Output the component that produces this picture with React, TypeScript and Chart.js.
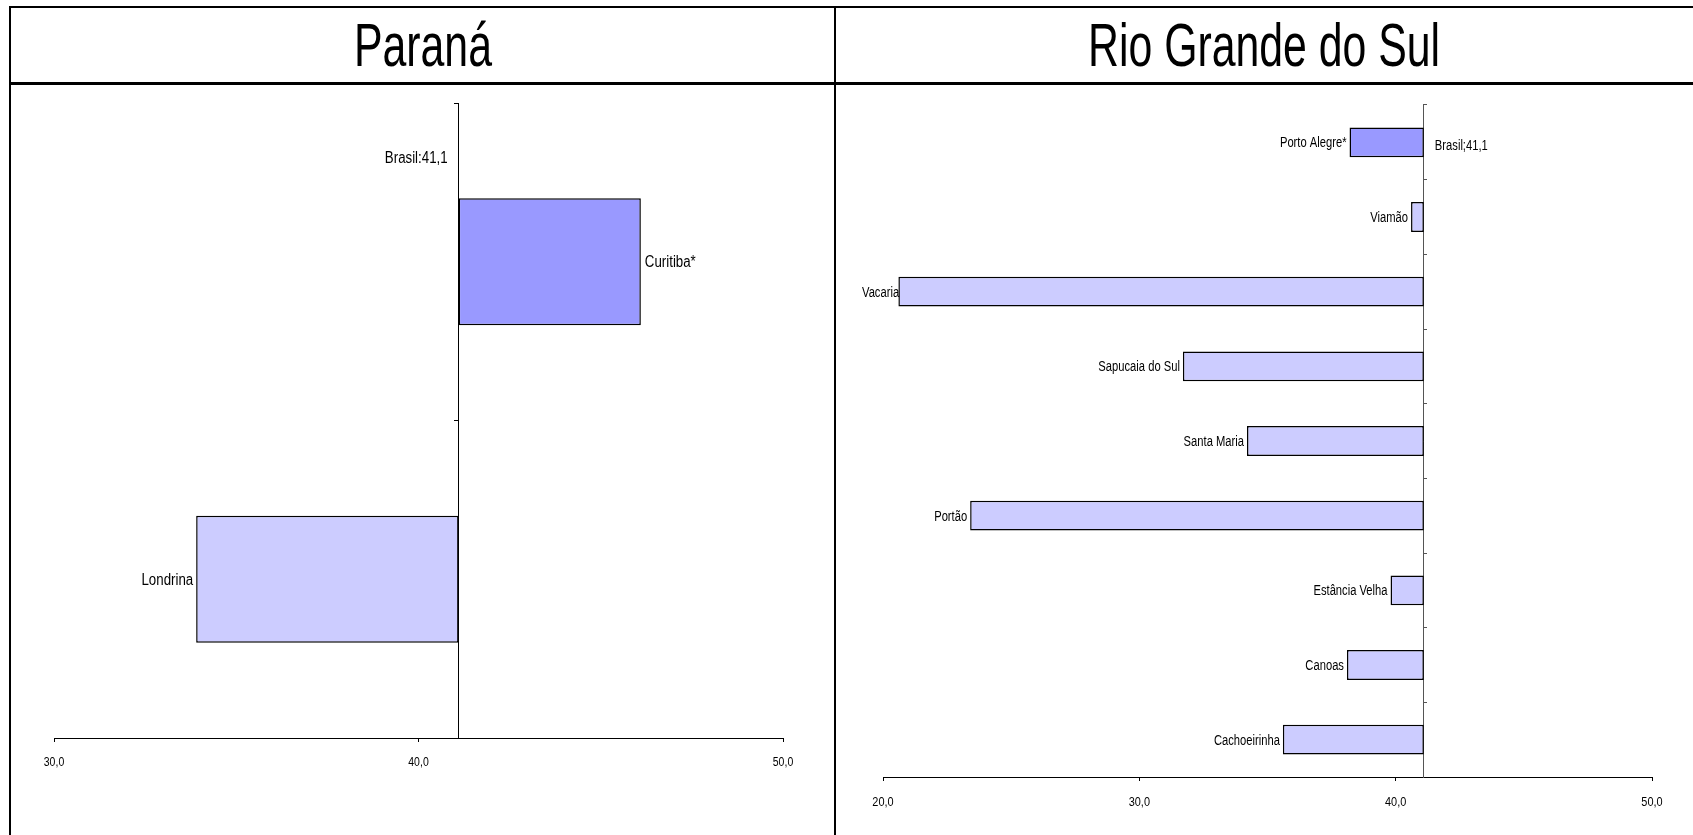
import React, { useEffect, useRef } from "react";
import { Chart, registerables } from "chart.js";

Chart.register(...registerables);

// ---------- data ----------
const BRASIL = 41.1;

const parCities = ["Curitiba*", "Londrina"];
const parValues = [46.1, 33.9];
const parHighlight = [true, false];
const parTicks = { min: 30, max: 50, step: 10 };

const rsCities = [
  "Porto Alegre*",
  "Viamão",
  "Vacaria",
  "Sapucaia do Sul",
  "Santa Maria",
  "Portão",
  "Estância Velha",
  "Canoas",
  "Cachoeirinha",
];
const rsValues = [38.2, 40.6, 20.6, 31.7, 34.2, 23.4, 39.8, 38.1, 35.6];
const rsHighlight = [true, false, false, false, false, false, false, false, false];
const rsTicks = { min: 20, max: 50, step: 10 };

const titles = ["Paraná", "Rio Grande do Sul"];
const brasilLabels = ["Brasil:41,1", "Brasil;41,1"];

// ---------- styling ----------
const FONT = '"Liberation Sans", Arial, Helvetica, sans-serif';
const DARK = "#9999FF";
const LIGHT = "#CCCCFF";

type PanelCfg = {
  cities: string[];
  values: number[];
  highlight: boolean[];
  ticks: { min: number; max: number; step: number };
  brasilLabel: string;
  brasilSide: "left" | "right";
  brasilOffset: number;
  labelSize: number;
  labelScale: number;
  tickSize: number;
  tickScale: number;
  tickOffset: number;
  axisColor: string;
  yTickLength: number;
  canvas: { left: number; top: number; w: number; h: number };
  padding: { left: number; right: number; top: number; bottom: number };
};

function drawText(
  ctx: CanvasRenderingContext2D,
  text: string,
  x: number,
  yCenter: number,
  align: CanvasTextAlign,
  sx: number,
  size: number
) {
  ctx.save();
  ctx.font = `${size}px ${FONT}`;
  ctx.translate(x, yCenter + size * 0.358);
  ctx.scale(sx, 1);
  ctx.textAlign = align;
  ctx.textBaseline = "alphabetic";
  ctx.fillStyle = "#000";
  ctx.fillText(text, 0, 0);
  ctx.restore();
}

function textWidth(ctx: CanvasRenderingContext2D, text: string, size: number, sx: number) {
  ctx.save();
  ctx.font = `${size}px ${FONT}`;
  const w = ctx.measureText(text).width * sx;
  ctx.restore();
  return w;
}

const fmt = (v: number) => v.toFixed(1).replace(".", ",");

function makePlugin(cfg: PanelCfg) {
  return {
    id: "customLabels",
    afterDraw(chart: any) {
      const ctx: CanvasRenderingContext2D = chart.ctx;
      const xs = chart.scales.x;
      const ys = chart.scales.y;
      const area = chart.chartArea;
      const base = xs.getPixelForValue(BRASIL);
      const band =
        cfg.cities.length > 1
          ? ys.getPixelForValue(1) - ys.getPixelForValue(0)
          : area.bottom - area.top;

      cfg.cities.forEach((name, i) => {
        const v = cfg.values[i];
        const yc = ys.getPixelForValue(i);
        const xe = xs.getPixelForValue(v);
        if (v >= BRASIL) {
          drawText(ctx, name, xe + 4, yc, "left", cfg.labelScale, cfg.labelSize);
        } else {
          let x = xe - 3;
          const w = textWidth(ctx, name, cfg.labelSize, cfg.labelScale);
          const minLeft = area.left - 21;
          if (x - w < minLeft) x = minLeft + w;
          drawText(ctx, name, x, yc, "right", cfg.labelScale, cfg.labelSize);
        }
      });

      const by = ys.getPixelForValue(0) + cfg.brasilOffset * band;
      if (cfg.brasilSide === "left") {
        drawText(ctx, cfg.brasilLabel, base - 11, by, "right", cfg.labelScale, cfg.labelSize);
      } else {
        drawText(ctx, cfg.brasilLabel, base + 11, by, "left", cfg.labelScale, cfg.labelSize);
      }

      xs.ticks.forEach((t: any) => {
        drawText(
          ctx,
          fmt(t.value),
          xs.getPixelForValue(t.value),
          area.bottom + cfg.tickOffset,
          "center",
          cfg.tickScale,
          cfg.tickSize
        );
      });
    },
  };
}

function Panel({ cfg }: { cfg: PanelCfg }) {
  const ref = useRef<HTMLCanvasElement>(null);
  useEffect(() => {
    const canvas = ref.current!;
    const chart = new Chart(canvas, {
      type: "bar",
      data: {
        labels: cfg.cities,
        datasets: [
          {
            data: cfg.values.map((v) => [BRASIL, v]) as any,
            backgroundColor: cfg.highlight.map((h) => (h ? DARK : LIGHT)),
            borderColor: "#000",
            borderWidth: 1.5,
            borderSkipped: false,
            barPercentage: 0.4,
            categoryPercentage: 1,
          },
        ],
      },
      options: {
        indexAxis: "y",
        animation: false,
        responsive: false,
        maintainAspectRatio: false,
        layout: { padding: cfg.padding },
        plugins: {
          legend: { display: false },
          tooltip: { enabled: false },
          title: { display: false },
        },
        scales: {
          x: {
            type: "linear",
            position: "bottom",
            min: cfg.ticks.min,
            max: cfg.ticks.max,
            ticks: { display: false, stepSize: cfg.ticks.step },
            grid: {
              display: true,
              drawOnChartArea: false,
              drawTicks: true,
              tickLength: 4,
              color: "#000",
              lineWidth: 1,
            },
            border: { display: true, color: "#000", width: 1 },
          },
          y: {
            type: "category",
            position: { x: BRASIL } as any,
            ticks: { display: false },
            grid: {
              display: true,
              drawOnChartArea: false,
              drawTicks: true,
              tickLength: cfg.yTickLength,
              color: cfg.axisColor,
              lineWidth: 1,
              offset: true,
            },
            border: { display: true, color: cfg.axisColor, width: 1 },
          },
        },
      },
      plugins: [makePlugin(cfg)],
    } as any);
    return () => chart.destroy();
  }, [cfg]);
  const c = cfg.canvas;
  return (
    <canvas
      ref={ref}
      width={c.w}
      height={c.h}
      style={{ position: "absolute", left: c.left, top: c.top, width: c.w, height: c.h }}
    />
  );
}

const parCfg: PanelCfg = {
  cities: parCities,
  values: parValues,
  highlight: parHighlight,
  ticks: parTicks,
  brasilLabel: brasilLabels[0],
  brasilSide: "left",
  brasilOffset: -0.33,
  labelSize: 16,
  labelScale: 0.83,
  tickSize: 12.5,
  tickScale: 0.84,
  tickOffset: 24,
  axisColor: "#000",
  yTickLength: 4,
  canvas: { left: 11, top: 86, w: 822, h: 749 },
  padding: { left: 43, right: 50, top: 17, bottom: 93 },
};

const rsCfg: PanelCfg = {
  cities: rsCities,
  values: rsValues,
  highlight: rsHighlight,
  ticks: rsTicks,
  brasilLabel: brasilLabels[1],
  brasilSide: "right",
  brasilOffset: 0.04,
  labelSize: 14,
  labelScale: 0.8,
  tickSize: 13,
  tickScale: 0.84,
  tickOffset: 24,
  axisColor: "#555",
  yTickLength: -4,
  canvas: { left: 837, top: 86, w: 856, h: 749 },
  padding: { left: 46, right: 41, top: 19, bottom: 54 },
};

function Title({ text, left, width }: { text: string; left: number; width: number }) {
  return (
    <div
      style={{
        position: "absolute",
        left,
        width,
        top: 14,
        height: 62,
        display: "flex",
        justifyContent: "center",
        alignItems: "center",
      }}
    >
      <span
        style={{
          fontFamily: FONT,
          fontSize: 62,
          lineHeight: "62px",
          whiteSpace: "nowrap",
          display: "inline-block",
          transform: "scaleX(0.69)",
          transformOrigin: "center",
          color: "#000",
        }}
      >
        {text}
      </span>
    </div>
  );
}

export default function App() {
  const line = (s: React.CSSProperties) => (
    <div style={{ position: "absolute", background: "#000", ...s }} />
  );
  return (
    <div
      style={{
        position: "absolute",
        left: 0,
        top: 0,
        width: 1693,
        height: 835,
        background: "#fff",
        overflow: "hidden",
      }}
    >
      {line({ left: 9, top: 6, width: 1684, height: 2 })}
      {line({ left: 9, top: 82, width: 1684, height: 3 })}
      {line({ left: 9, top: 6, width: 2, height: 829 })}
      {line({ left: 834, top: 6, width: 2, height: 829 })}
      <Title text={titles[0]} left={11} width={823} />
      <Title text={titles[1]} left={836} width={857} />
      <Panel cfg={parCfg} />
      <Panel cfg={rsCfg} />
    </div>
  );
}
